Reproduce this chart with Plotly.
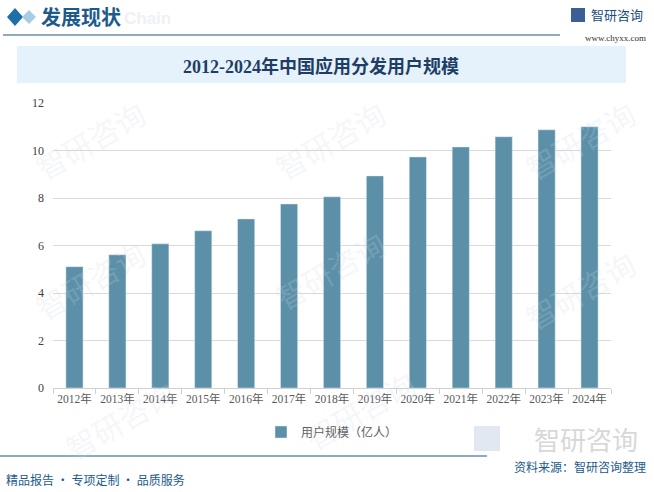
import plotly.graph_objects as go

years = ["2012年", "2013年", "2014年", "2015年", "2016年", "2017年", "2018年",
         "2019年", "2020年", "2021年", "2022年", "2023年", "2024年"]
users = [5.11, 5.61, 6.07, 6.62, 7.12, 7.75, 8.05, 8.93, 9.73, 10.15, 10.58, 10.87, 11.0]
series_name = "用户规模（亿人）"
y_ticks = [0, 2, 4, 6, 8, 10, 12]

title = "2012-2024年中国应用分发用户规模"
header = "发展现状"
footer_left = "精品报告 · 专项定制 · 品质服务"
footer_right = "资料来源：智研咨询整理"

W, H = 654, 492
L, R, T, B = 53, 611, 103, 388


def px(x):
    return (x - L) / (R - L)


def py(y):
    return (B - y) / (B - T)


DARK = "#1b5a8a"
BAR = "#5b90a8"

fig = go.Figure()

fig.add_trace(go.Bar(
    x=years,
    y=users,
    name=series_name,
    marker=dict(color=BAR),
    width=0.4,
))

shapes = []
annotations = []


def note(x, y, text, size, color, family="Noto Sans CJK SC", xanchor="center", angle=0):
    annotations.append(dict(
        x=px(x), y=py(y), xref="paper", yref="paper", text=text,
        xanchor=xanchor, yanchor="middle", showarrow=False, textangle=angle,
        font=dict(size=size, color=color, family=family),
    ))


# --- faint watermarks ---
for wx, wy in [(90, 140), (330, 140), (580, 140), (90, 280), (330, 270), (580, 290),
               (120, 420), (360, 410)]:
    note(wx, wy, "智研咨询", 30, "rgba(205,215,228,0.22)", angle=-30)

# --- title band ---
shapes.append(dict(type="rect", xref="paper", yref="paper",
                   x0=px(17), x1=px(626), y0=py(83), y1=py(46),
                   fillcolor="#e6f2fb", line=dict(width=0), layer="below"))
note(321, 66, "<b>" + title + "</b>", 18, "#1f3e66",
     family="Liberation Serif, Noto Sans CJK SC")

# --- header ---
shapes.append(dict(type="line", xref="paper", yref="paper",
                   x0=px(3), x1=px(560), y0=py(35), y1=py(35),
                   line=dict(color=DARK, width=1.2)))
shapes.append(dict(type="path", xref="paper", yref="paper",
                   path=f"M {px(7)} {py(17)} L {px(15)} {py(8)} L {px(23)} {py(17)} L {px(15)} {py(26)} Z",
                   fillcolor="#1d6fa5", line=dict(width=0)))
shapes.append(dict(type="path", xref="paper", yref="paper",
                   path=f"M {px(22)} {py(17)} L {px(29)} {py(10)} L {px(36)} {py(17)} L {px(29)} {py(24)} Z",
                   fillcolor="#a9cbe3", line=dict(width=0)))
note(122, 19, "<b>Chain</b>", 17, "#eef1f4", family="Liberation Sans", xanchor="left")
note(39, 17, "<b>" + header + "</b>", 20, DARK, xanchor="left")

# --- logo top right ---
shapes.append(dict(type="rect", xref="paper", yref="paper",
                   x0=px(571), x1=px(585), y0=py(22), y1=py(8),
                   fillcolor="#3a5f96", line=dict(width=0)))
note(589, 15, "智研咨询", 13, "#244a7c", xanchor="left")
note(648, 38, "www.chyxx.com", 9, "#333333", family="Liberation Serif", xanchor="right")

# --- footer ---
note(640, 438, "智研咨询", 26, "#d8d8d8", xanchor="right")
shapes.append(dict(type="rect", xref="paper", yref="paper",
                   x0=px(474), x1=px(500), y0=py(451), y1=py(426),
                   fillcolor="rgba(190,205,225,0.45)", line=dict(width=0)))
shapes.append(dict(type="line", xref="paper", yref="paper",
                   x0=px(0), x1=px(487), y0=py(456), y1=py(456),
                   line=dict(color=DARK, width=1.2)))
note(648, 466, footer_right, 12, DARK, xanchor="right")
note(4, 479, footer_left, 12, DARK, xanchor="left")

fig.update_layout(
    width=W, height=H,
    margin=dict(l=L, r=W - R, t=T, b=H - B),
    paper_bgcolor="white",
    plot_bgcolor="white",
    font=dict(family="Liberation Serif, Noto Sans CJK SC", color="#404040", size=12),
    showlegend=True,
    legend=dict(orientation="h", x=0.5, xanchor="center", y=py(432), yanchor="middle",
                font=dict(size=12, color="#595959", family="Noto Sans CJK SC"),
                itemwidth=30),
    xaxis=dict(
        showline=True, linecolor="#d0d0d0", linewidth=1,
        ticks="outside", tickson="boundaries", ticklen=5, tickcolor="#d0d0d0",
        tickangle=0,
        tickfont=dict(size=11.5, color="#595959"),
    ),
    yaxis=dict(
        range=[0, 12], tickvals=y_ticks,
        showgrid=True, gridcolor="#d9d9d9", gridwidth=1,
        zeroline=False, ticks="", ticklabelstandoff=8,
        tickfont=dict(size=12, color="#404040"),
    ),
    shapes=shapes,
    annotations=annotations,
    bargap=0.6,
)

fig.write_html("out.html", config={"displayModeBar": False},
               post_script="document.body.style.margin='0';")
